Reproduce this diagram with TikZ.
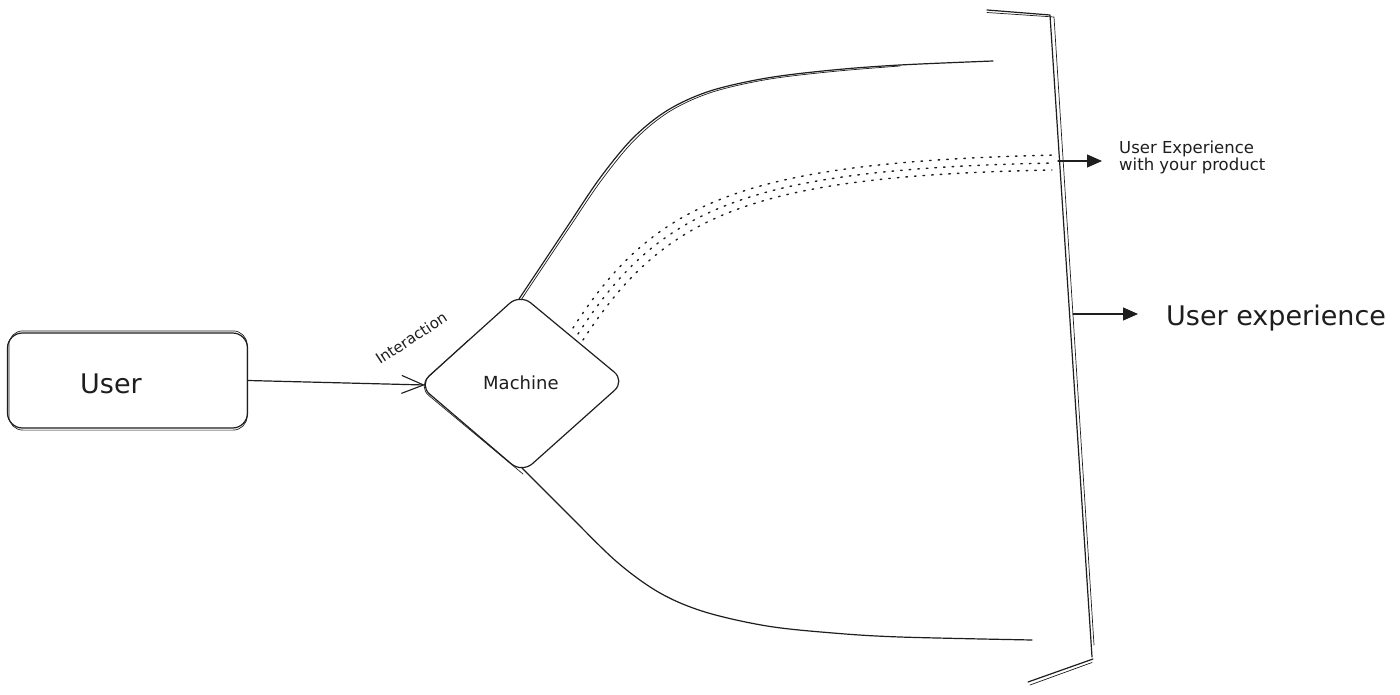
\documentclass[tikz,border=0pt]{standalone}
\usepackage{fontspec}
\setmainfont{DejaVu Sans}
\usetikzlibrary{arrows.meta,calc}
\definecolor{ink}{HTML}{1E1E1E}
\begin{document}
\begin{tikzpicture}[x=1pt,y=-1pt,line cap=round,line join=round,
  sk/.style={draw=ink,line width=1.2pt},
  sk2/.style={draw=ink,line width=0.7pt},
  dots/.style={draw=ink,line width=1.4pt,dash pattern=on 1.6pt off 7pt},
  lbl/.style={inner sep=0pt,text=ink},
  openarrow/.style={-{Straight Barb[length=22pt,width=18pt,line width=1.1pt]}},
  fillarrow/.style={-{Triangle[length=15pt,width=13pt]}}]
\useasboundingbox (0,0) rectangle (1400,695);
\fill[white] (0,0) rectangle (1400,695);

% User box
\node[sk,rounded corners=15pt,minimum width=240pt,minimum height=95pt,inner sep=0pt] (user) at (127.5,380.5) {};
\draw[sk2,rounded corners=14pt] ($(user.north west)+(2,-1.5)$) rectangle ($(user.south east)+(-1,1.5)$);
\node[lbl,anchor=base west,font=\fontsize{27}{30}\selectfont] (usertext) at (80,393) {User};

% Machine diamond
\coordinate (mt) at (520,294);
\coordinate (mr) at (625,381);
\coordinate (mb) at (522,473);
\coordinate (ml) at (419,385);
\draw[sk,rounded corners=14pt] ($(mt)!0.5!(mr)$) -- (mr) -- (mb) -- (ml) -- (mt) -- cycle;
\draw[sk2,rounded corners=14pt] ($(mt)!0.5!(ml)+(-1.5,1)$) -- ($(ml)+(-1,1.5)$) -- ($(mb)+(1,1)$);
\node[lbl,anchor=base west,font=\fontsize{18}{20}\selectfont] (mach) at (483,389) {Machine};
\coordinate (mleft) at (425,385);
\coordinate (mtop) at (519,299);
\coordinate (mbot) at (522,468);

% Interaction arrow
\draw[sk,openarrow] (user.east) -- (mleft);
\node[lbl,anchor=base west,rotate=33,font=\fontsize{15}{17}\selectfont] (inter) at (380,365) {Interaction};

% Upper and lower branches
\draw[sk] plot[smooth,tension=0.55] coordinates {(mtop) (567,227) (600,178) (633,138) (668,110) (710,91) (767,78) (833,70) (900,65) (993,61)};
\draw[sk2] plot[smooth,tension=0.55] coordinates {(521,300) (569,228) (602,179.5) (635,139.5) (669.5,111.5) (711,92.5) (767,79.5) (833,71.5) (900,66)};
\draw[sk] plot[smooth,tension=0.55] coordinates {(mbot) (567,513) (617,562) (660,593) (705,612) (767,626) (833,633) (900,637) (1032,640)};

% Dotted bundle
\draw[dots] (573,328) .. controls (655,200) and (745,162) .. (1057,155);
\draw[dots] (578,334) .. controls (660,207) and (748,169) .. (1054,163);
\draw[dots] (583,340) .. controls (665,214) and (751,176) .. (1052,170);

% Bracket
\draw[sk] (987,10) -- (1050,15) -- (1092,657);
\draw[sk2] (987,12.5) -- (1054,17) -- (1094,645);
\draw[sk] (1093,659) -- (1028,682);
\draw[sk2] (1092,662.5) -- (1030,685);

% Outputs
\coordinate (b1) at (1058,161);
\coordinate (b2) at (1073,314);
\node[lbl,anchor=west,align=left,font=\fontsize{16.5}{17}\selectfont] (ux1) at (1119,157) {User Experience\\with your product};
\node[lbl,anchor=base west,font=\fontsize{27}{30}\selectfont] (ux2) at (1166,325) {User experience};
\draw[sk,fillarrow,shorten >=17pt] (b1) -- (b1 -| ux1.west);
\draw[sk,fillarrow,shorten >=28pt] (b2) -- (b2 -| ux2.west);
\end{tikzpicture}
\end{document}
